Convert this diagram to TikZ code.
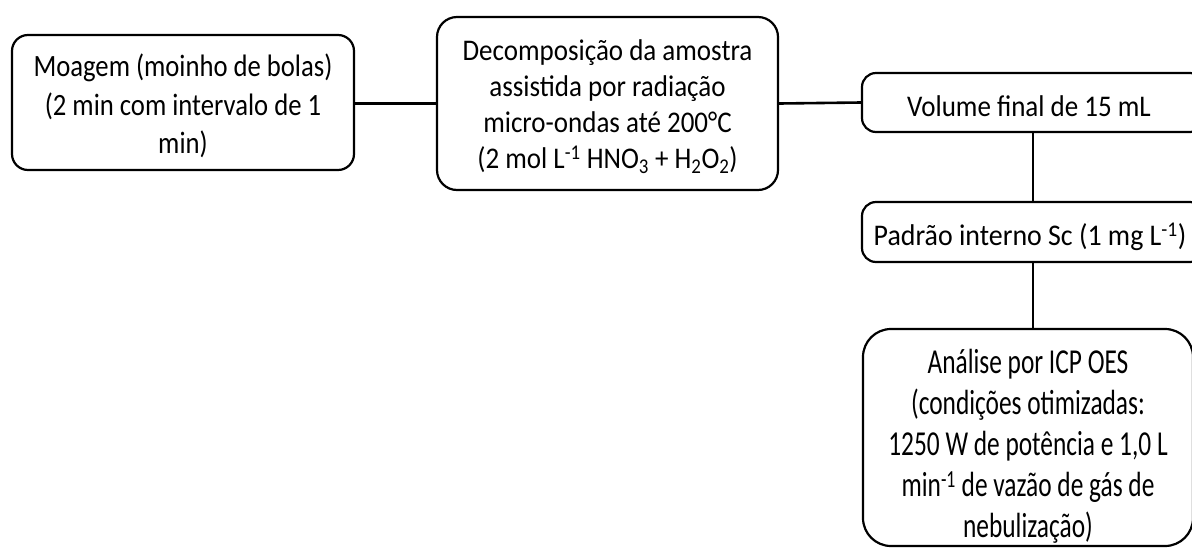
\documentclass[tikz,border=0pt]{standalone}
\usepackage{fontspec}
\setmainfont{Carlito}
\newfontfamily\grindfont[FakeStretch=0.86]{Carlito}
\newfontfamily\stepfont[FakeStretch=0.9]{Carlito}
\newfontfamily\istdfont[FakeStretch=0.93]{Carlito}
\newfontfamily\icpfont[FakeStretch=0.725]{Carlito}
% stacked, centred lines drawn a little below the box centre
\newcommand\boxlines[2]{\raisebox{-#1}[\height][\depth]{\begin{tabular}{@{}c@{}}#2\end{tabular}}}
\begin{document}
\begin{tikzpicture}[x=1pt,y=-1pt,
  flowbox/.style={draw=black, line width=2.2pt, fill=white, align=center,
    inner sep=0pt, font=\stepfont\fontsize{30}{36}\selectfont},
  link/.style={draw=black, line width=2.6pt}]
  \useasboundingbox (0,0) rectangle (1192,547);
  \clip (0,0) rectangle (1192,547);

  % sample preparation
  \node[flowbox, rounded corners=16pt, minimum width=342pt, minimum height=135pt,
        font=\grindfont\fontsize{31}{38.5}\selectfont]
    (grind) at (183,102.5) {\boxlines{5pt}{Moagem (moinho de bolas)\\(2 min com intervalo de 1\\min)}};
  \node[flowbox, rounded corners=20pt, minimum width=341pt, minimum height=173pt]
    (digest) at (607.5,103.5) {\boxlines{4pt}{Decomposição da amostra\\assistida por radiação\\micro-ondas até 200°C\\(2 mol L\textsuperscript{-1} HNO\textsubscript{3} + H\textsubscript{2}O\textsubscript{2})}};

  % dilution and measurement column
  \node[flowbox, rounded corners=14pt, minimum width=342pt, minimum height=59pt]
    (volume) at (1033,102.5) {\boxlines{7pt}{\hspace*{-8pt}Volume final de 15 mL}};
  \node[flowbox, rounded corners=14pt, minimum width=342pt, minimum height=60pt,
        font=\istdfont\fontsize{30}{36}\selectfont]
    (istd) at (1033,232) {\boxlines{6pt}{\hspace*{-6pt}Padrão interno Sc (1 mg L\textsuperscript{-1})}};
  \node[flowbox, rounded corners=28pt, minimum width=330pt, minimum height=217pt,
        font=\icpfont\fontsize{35}{41}\selectfont]
    (icp) at (1028,437.5) {\boxlines{10pt}{Análise por ICP OES\\(condições otimizadas:\\1250 W de potência e 1,0 L\\min\textsuperscript{-1} de vazão de gás de\\nebulização)}};

  % connectors
  \draw[link] (digest.west) -- (digest.west -| grind.east);
  \draw[link] (digest.east) -- (volume.west);
  \draw[link] (volume.south) -- (volume.south |- istd.north);
  \draw[link] (istd.south) -- (istd.south |- icp.north);
\end{tikzpicture}
\end{document}
